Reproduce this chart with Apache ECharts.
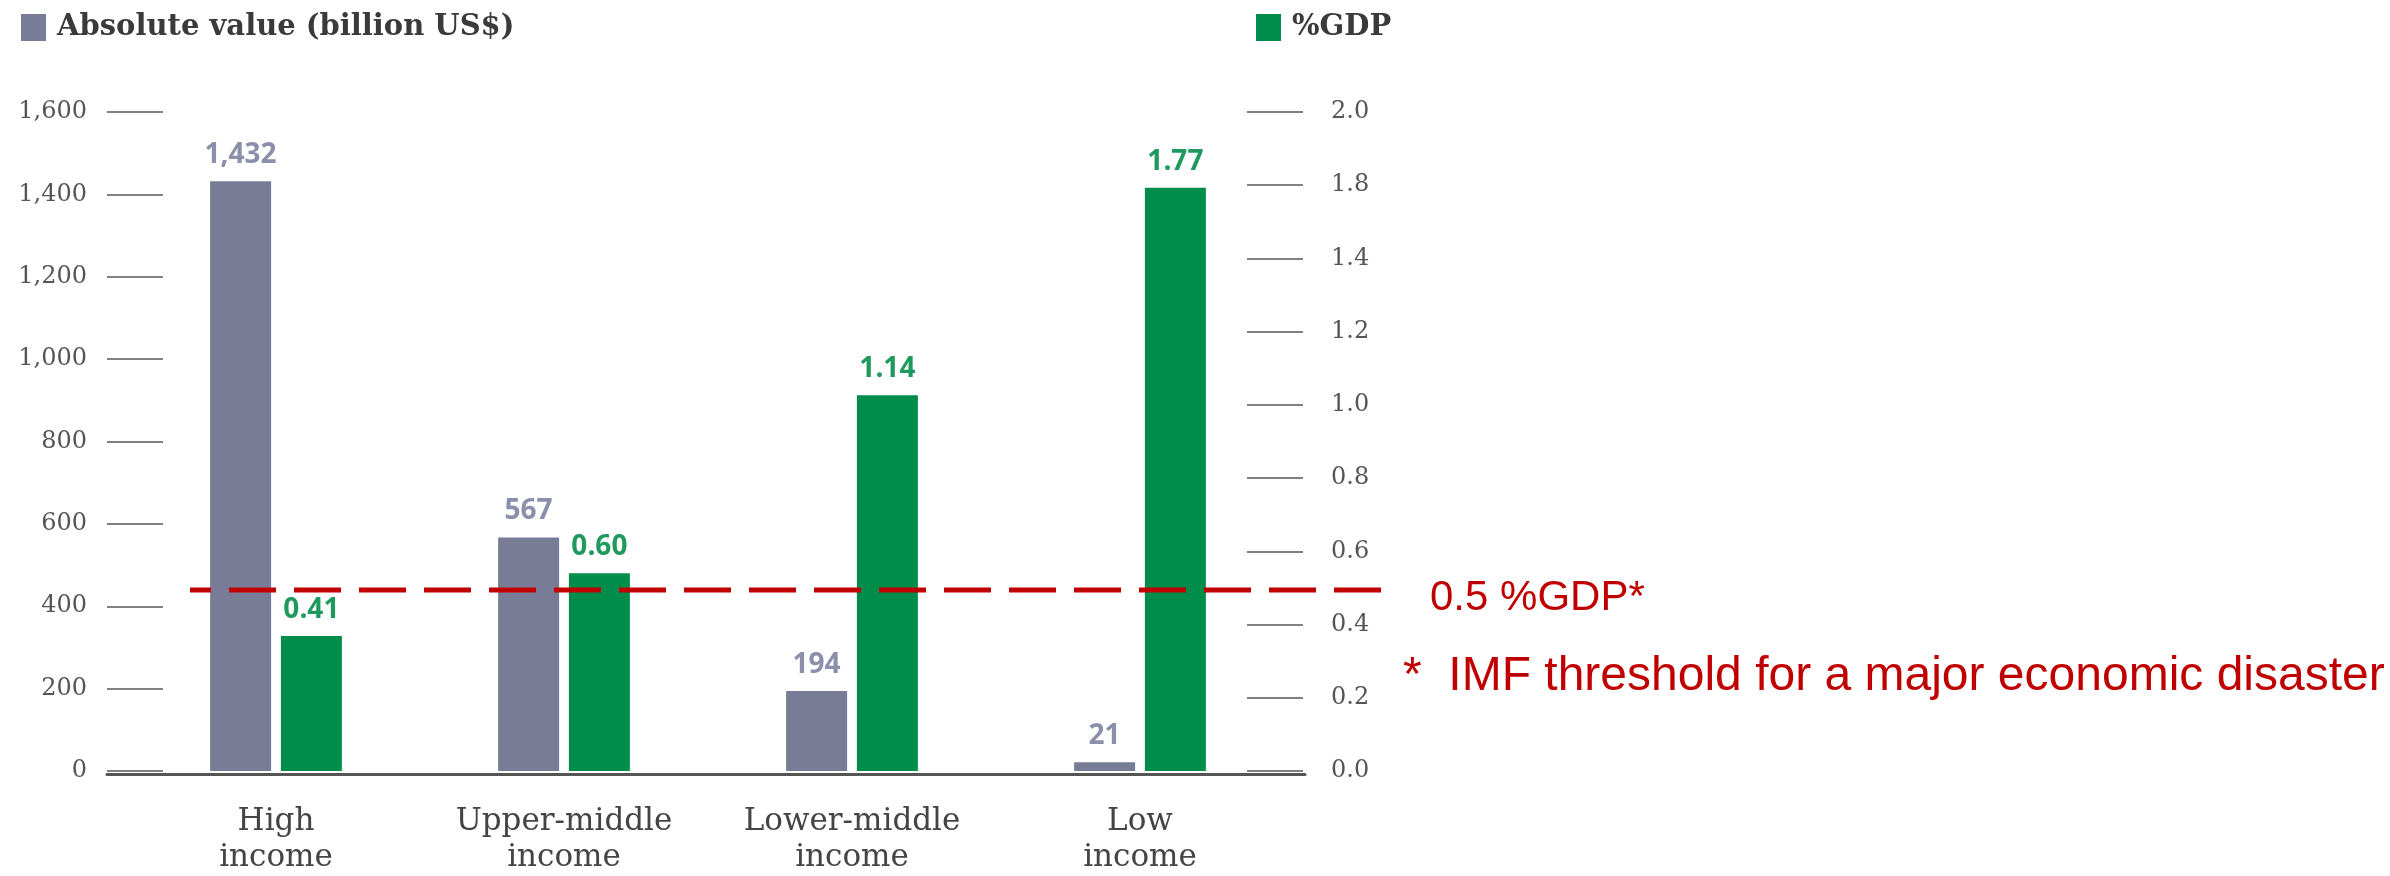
<!DOCTYPE html>
<html>
<head>
<meta charset="utf-8">
<script src="https://cdn.jsdelivr.net/npm/echarts@6/dist/echarts.min.js"></script>
<style>
html,body{margin:0;padding:0;background:#fff;}
#chart{width:2390px;height:876px;}
</style>
</head>
<body>
<div id="chart"></div>
<script>
// ---- data ----
const categories = ['High\nincome', 'Upper-middle\nincome', 'Lower-middle\nincome', 'Low\nincome'];
const absoluteValues = [1432, 567, 194, 21];          // billion US$
const gdpShares = [0.41, 0.60, 1.14, 1.77];           // %GDP
const leftAxisMin = 0, leftAxisMax = 1600, leftAxisStep = 200;
const rightTickLabels = ['0.0', '0.2', '0.4', '0.6', '0.8', '1.0', '1.2', '1.4', '1.8', '2.0'];
const rightLabelScaleMax = 1.8;   // scale on which the printed right-hand labels sit
const gdpBarScaleMax = 2.0;       // scale on which the %GDP bars are drawn
const thresholdValue = 0.5;
const thresholdPoints = ['start', 'end'];
const absName = 'Absolute value (billion US$)';
const gdpName = '%GDP';
const footnote = '*  IMF threshold for a major economic disaster';

const GREY = '#787C96', GREEN = '#008C4B', RED = '#C00000';
const serif = '"DejaVu Serif", serif';

const chart = echarts.init(document.getElementById('chart'));
chart.setOption({
  animation: false,
  backgroundColor: '#ffffff',
  title: [{
    text: footnote, left: 1398, top: 648,
    textStyle: { fontFamily: '"Liberation Sans", Arial, sans-serif', fontSize: 48, fontWeight: 'normal', color: RED, lineHeight: 48 }
  }],
  legend: [
    { data: [absName], left: 16, top: 8, icon: 'rect', itemWidth: 25, itemHeight: 27,
      textStyle: { fontFamily: serif, fontSize: 29, fontWeight: 'bold', color: '#3a3a3a', padding: [0, 0, 0, 6] } },
    { data: [gdpName], left: 1251, top: 8, icon: 'rect', itemWidth: 25, itemHeight: 27,
      textStyle: { fontFamily: serif, fontSize: 29, fontWeight: 'bold', color: '#3a3a3a', padding: [0, 0, 0, 6] } }
  ],
  grid: [
    { left: 132, right: 1106, top: 112, bottom: 102 },
    { left: 107, right: 1085, top: 112, bottom: 102 },
    { left: 190, right: 991, top: 112, bottom: 102 }
  ],
  xAxis: [
    { type: 'category', gridIndex: 0, data: categories,
      axisLine: { show: false }, axisTick: { show: false },
      axisLabel: { margin: 33, fontFamily: serif, fontSize: 31, color: '#444', lineHeight: 36 } },
    { type: 'category', gridIndex: 1, data: [''], z: 10,
      axisLine: { show: true, onZero: false, lineStyle: { color: '#555', width: 3 } },
      axisTick: { show: false }, axisLabel: { show: false } },
    { type: 'category', gridIndex: 2, data: thresholdPoints, boundaryGap: false, show: false }
  ],
  yAxis: [
    { type: 'value', gridIndex: 0, position: 'left', offset: -31,
      min: leftAxisMin, max: leftAxisMax, interval: leftAxisStep,
      splitLine: { show: false }, axisLine: { show: false },
      axisTick: { show: true, length: 56, lineStyle: { color: '#808080', width: 2 } },
      axisLabel: { margin: 76, fontFamily: serif, fontSize: 24, color: '#555',
        formatter: v => v.toLocaleString('en-US') } },
    { type: 'value', gridIndex: 0, position: 'right', offset: -37,
      min: 0, max: rightLabelScaleMax, interval: 0.2,
      splitLine: { show: false }, axisLine: { show: false },
      axisTick: { show: true, length: 56, lineStyle: { color: '#808080', width: 2 } },
      axisLabel: { margin: 84, fontFamily: serif, fontSize: 24, color: '#555',
        formatter: (v, i) => rightTickLabels[i] } },
    { type: 'value', gridIndex: 0, position: 'right', min: 0, max: gdpBarScaleMax, show: false, splitLine: { show: false } },
    { type: 'value', gridIndex: 1, min: 0, max: 1, show: false, splitLine: { show: false } },
    { type: 'value', gridIndex: 2, min: 0, max: rightLabelScaleMax, show: false, splitLine: { show: false } }
  ],
  series: [
    { name: absName, type: 'bar', xAxisIndex: 0, yAxisIndex: 0, data: absoluteValues,
      barWidth: 61, barGap: '16%', itemStyle: { color: GREY },
      label: { show: true, position: 'top', distance: 12, fontFamily: '"Open Sans", sans-serif',
        fontWeight: 'bold', fontSize: 28, color: '#8B8FA9',
        formatter: p => p.value.toLocaleString('en-US') } },
    { name: gdpName, type: 'bar', xAxisIndex: 0, yAxisIndex: 2, data: gdpShares,
      barWidth: 61, barGap: '16%', itemStyle: { color: GREEN },
      label: { show: true, position: 'top', distance: 12, fontFamily: '"Open Sans", sans-serif',
        fontWeight: 'bold', fontSize: 28, color: '#1F9A5E',
        formatter: p => p.value.toFixed(2) } },
    { name: 'threshold', type: 'line', xAxisIndex: 2, yAxisIndex: 4, z: 5,
      data: thresholdPoints.map(() => thresholdValue), symbol: 'none', silent: true,
      lineStyle: { color: RED, width: 5, type: [47, 18], dashOffset: 26 },
      endLabel: { show: true, distance: 31, offset: [0, 8],
        fontFamily: '"Liberation Sans", Arial, sans-serif', fontSize: 42, color: RED,
        formatter: () => thresholdValue + ' %GDP*' } }
  ]
});
</script>
</body>
</html>
